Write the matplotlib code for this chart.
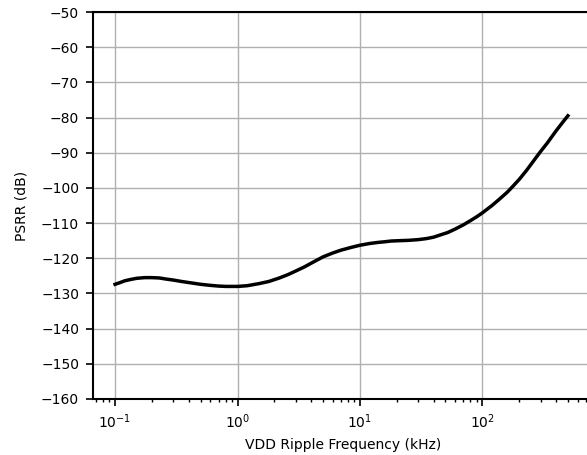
import matplotlib
matplotlib.use("Agg")
import matplotlib.pyplot as plt

# VDD ripple frequency (kHz) and PSRR (dB)
freq_khz = [0.1, 0.11, 0.12, 0.135, 0.15, 0.175, 0.2, 0.23, 0.26, 0.3, 0.35,
            0.4, 0.5, 0.6, 0.7, 0.8, 0.9, 1.0, 1.2, 1.5, 1.8, 2.2, 2.6, 3.0,
            3.5, 4.0, 5.0, 6.0, 7.0, 8.5, 10, 12, 14, 16, 18, 21, 25, 30,
            35, 40, 46, 52, 60, 70, 80, 90, 100, 120, 140, 160, 176, 200,
            230, 260, 294, 340, 400, 450, 500]
psrr_db = [-127.4, -126.9, -126.4, -126.0, -125.7, -125.5, -125.5, -125.6,
           -125.9, -126.2, -126.6, -126.9, -127.4, -127.7, -127.9, -128.0,
           -128.0, -128.0, -127.8, -127.2, -126.6, -125.6, -124.6, -123.6,
           -122.5, -121.4, -119.6, -118.5, -117.7, -116.9, -116.3, -115.8,
           -115.5, -115.3, -115.1, -115.0, -114.9, -114.7, -114.4, -114.0,
           -113.3, -112.7, -111.7, -110.5, -109.3, -108.2, -107.1, -105.0,
           -103.0, -101.2, -99.7, -97.6, -95.0, -92.5, -90.0, -87.2, -83.8,
           -81.5, -79.5]

yticks = list(range(-160, -49, 10))

fig = plt.figure(figsize=(5.87, 4.55), dpi=100)
ax = fig.add_axes([93 / 587, 1 - 399 / 455, 1.0 - 93 / 587 + 0.01, (399 - 12) / 455])

ax.plot(freq_khz, psrr_db, color="black", linewidth=2.5)
ax.set_xscale("log")
ax.set_xlim(0.066, 800)
ax.set_ylim(-160, -50)
ax.set_yticks(yticks)
ax.grid(True, which="major", color="#b0b0b0", linewidth=1.0)
ax.set_axisbelow(True)
ax.tick_params(which="major", length=5, width=1.2, pad=5)
ax.tick_params(which="minor", length=2.5, width=1.0)
for side in ("left", "top", "bottom"):
    ax.spines[side].set_linewidth(1.5)
ax.spines["right"].set_visible(False)
ax.set_xlabel("VDD Ripple Frequency (kHz)", labelpad=5)
ax.set_ylabel("PSRR (dB)", labelpad=9)

fig.savefig("out.png", dpi=100)
